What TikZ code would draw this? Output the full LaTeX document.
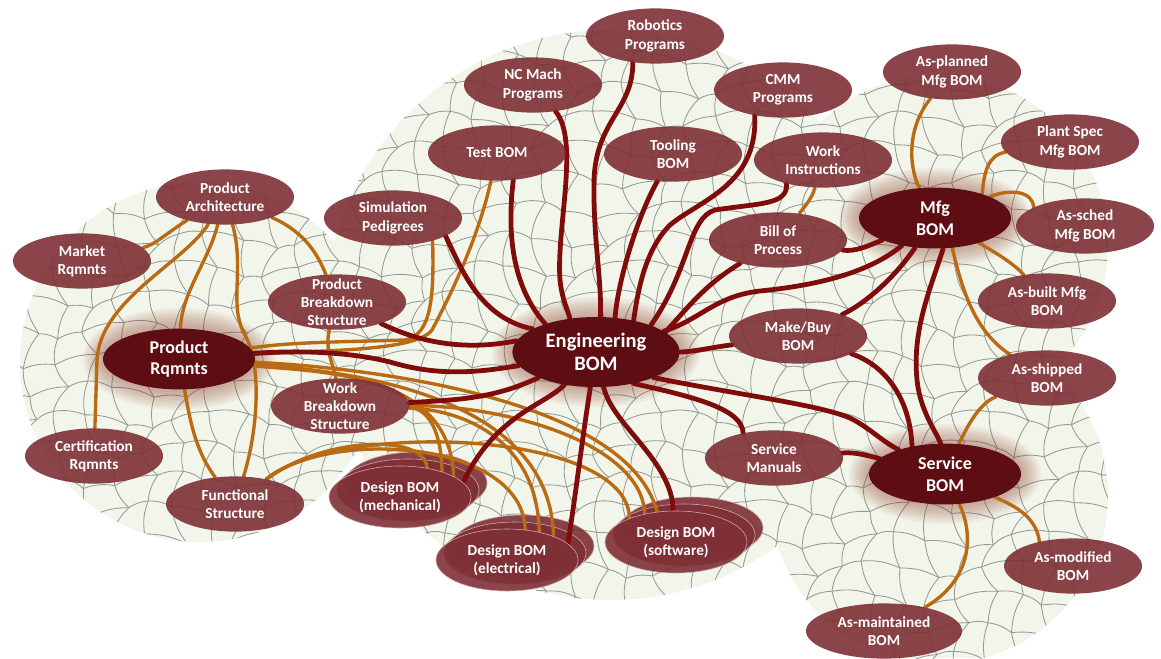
\documentclass[tikz,border=0pt]{standalone}
\usepackage{fontspec}
\setmainfont{Carlito}
\usetikzlibrary{shapes.geometric}
\definecolor{bmnode}{HTML}{7E3036}
\definecolor{bmhub}{HTML}{5E0E13}
\definecolor{bmred}{HTML}{800B0B}
\definecolor{bmorange}{HTML}{BA6A12}
\definecolor{bmpaper}{HTML}{F2F5E9}
\definecolor{bmweb}{HTML}{939993}
\definecolor{bmglow}{HTML}{8C3B2C}
\pgfdeclarelayer{paper}
\pgfdeclarelayer{links}
\pgfsetlayers{paper,links,main}

\begin{document}
\begin{tikzpicture}[
      x=0.025cm, y=-0.025cm,
      declare function={wx(\a,\b)=\a*30+9*sin(\a*97+\b*131);
                        wy(\a,\b)=\b*30+9*cos(\a*71+\b*53);},
      bub/.style={ellipse, fill=bmnode, fill opacity=.9, inner sep=0pt,
                  minimum width=3.45cm, minimum height=1.38cm},
      hub/.style={ellipse, fill=bmhub, inner sep=0pt,
                  minimum width=3.8cm, minimum height=1.52cm},
      dbom/.style={bub, draw=white!60!bmnode, thin,
                   minimum width=3.55cm, minimum height=1.55cm},
      txt/.style={text=white, text opacity=1, align=center,
                  font=\bfseries\fontsize{10.9}{13}\selectfont},
      hubtxt/.style={txt, font=\bfseries\fontsize{12.8}{15.5}\selectfont},
      eng/.style={draw=bmred, line width=3.4pt, line cap=round},
      req/.style={draw=bmorange, line width=2.4pt, line cap=round},
      web/.style={draw=bmweb, line width=0.6pt}
    ]
    \useasboundingbox (0,0) rectangle (1161,658);

    % hubs
    \node[hub, label={[hubtxt]center:Product\\Rqmnts}] (prq) at (179,359) {};
    \node[hub, minimum width=4.18cm, minimum height=1.75cm,
          label={[hubtxt, font=\bfseries\fontsize{14.6}{16.5}\selectfont]center:Engineering\\BOM}] (ebom) at (596,352) {};
    \node[hub, label={[hubtxt]center:Mfg\\BOM}] (mfg) at (935,218) {};
    \node[hub, label={[hubtxt]center:Service\\BOM}] (svc) at (945,474) {};

    % requirements side
    \node[bub, label={[txt]center:Product\\Architecture}] (parch) at (225,197) {};
    \node[bub, label={[txt]center:Market\\Rqmnts}] (mkt) at (82,261) {};
    \node[bub, label={[txt]center:Product\\Breakdown\\Structure}] (pbs) at (337,302) {};
    \node[bub, label={[txt]center:Work\\Breakdown\\Structure}] (wbs) at (340,406) {};
    \node[bub, label={[txt]center:Certification\\Rqmnts}] (cert) at (94,456) {};
    \node[bub, label={[txt]center:Functional\\Structure}] (func) at (235,504) {};

    % engineering outputs
    \node[bub, label={[txt]center:Robotics\\Programs}] (rob) at (655,36) {};
    \node[bub, label={[txt]center:NC Mach\\Programs}] (ncm) at (533,85) {};
    \node[bub, label={[txt]center:CMM\\Programs}] (cmm) at (783,90) {};
    \node[bub, label={[txt]center:Test BOM}] (test) at (497,153) {};
    \node[bub, label={[txt]center:Tooling\\BOM}] (tool) at (673,154) {};
    \node[bub, label={[txt]center:Work\\Instructions}] (wi) at (823,160) {};
    \node[bub, label={[txt]center:Simulation\\Pedigrees}] (sim) at (393,218) {};
    \node[bub, label={[txt]center:Bill of\\Process}] (bop) at (778,240) {};
    \node[bub, label={[txt]center:Make/Buy\\BOM}] (mkb) at (798,336) {};
    \node[bub, label={[txt]center:Service\\Manuals}] (sman) at (774,458) {};

    % manufacturing and service
    \node[bub, label={[txt]center:As-planned\\Mfg BOM}] (aplan) at (952,72) {};
    \node[bub, label={[txt]center:Plant Spec\\Mfg BOM}] (plant) at (1070,142) {};
    \node[bub, label={[txt]center:As-sched\\Mfg BOM}] (asch) at (1085,226) {};
    \node[bub, label={[txt]center:As-built Mfg\\BOM}] (abuilt) at (1047,301) {};
    \node[bub, label={[txt]center:As-shipped\\BOM}] (aship) at (1047,378) {};
    \node[bub, label={[txt]center:As-modified\\BOM}] (amod) at (1073,566) {};
    \node[bub, minimum width=3.9cm, label={[txt]center:As-maintained\\BOM}] (amaint) at (884,631) {};

    % design BOMs (front of each stack)
    \node[dbom, label={[txt]center:Design BOM\\(mechanical)}] (dmech) at (400,497) {};
    \node[dbom, label={[txt]center:Design BOM\\(electrical)}] (delec) at (507,560) {};
    \node[dbom, label={[txt]center:Design BOM\\(software)}] (dsoft) at (676,542) {};

    \begin{pgfonlayer}{paper}
      \begin{scope}
        \clip (200,362) circle [radius=180] (610,315) circle [radius=285]
              (938,245) circle [radius=170] (939,495) circle [radius=169];
        \fill[bmpaper] (0,0) rectangle (1161,658);
        \foreach \i in {0,...,39} \foreach \j in {0,...,22}
          \draw[web] ({wx(\i,\j)},{wy(\i,\j)}) to[bend left=14] ({wx(\i+1,\j)},{wy(\i+1,\j)})
                     ({wx(\i,\j)},{wy(\i,\j)}) to[bend right=14] ({wx(\i,\j+1)},{wy(\i,\j+1)});
      \end{scope}
      % halo round the hubs
      \foreach \h/\rx/\ry in {prq/76/31, ebom/84/35, mfg/76/30, svc/76/30}
        \foreach \k in {1,...,8}
          \fill[bmglow, opacity=.06] (\h) ellipse [x radius=\rx+2.5*\k, y radius=\ry+2.5*\k];
      % stacked sheets behind the design BOMs
      \foreach \d/\x/\y in {dmech/400/497, delec/507/560, dsoft/676/542} {
        \node[dbom] (\d-c) at (\x+16,\y-14) {};
        \node[dbom] (\d-b) at (\x+8,\y-7) {};
      }
    \end{pgfonlayer}

    \begin{pgfonlayer}{links}
      % requirement threads
      \draw[req] (parch) .. controls (168,232) and (155,245) .. (mkt);
      \draw[req] (parch) .. controls (185,262) and (100,300) .. (97,360) -- (cert);
      \draw[req] (parch) .. controls (208,262) and (182,292) .. (prq);
      \draw[req] (parch) .. controls (245,270) and (228,305) .. (245,335)
                 .. controls (262,365) and (258,430) .. (func);
      \draw[req] (parch) .. controls (305,232) and (318,255) .. (pbs);
      \draw[req] (prq) .. controls (190,420) and (195,450) .. (func);
      \draw[req] (pbs) .. controls (324,350) and (334,365) .. (wbs);
      \draw[req] (sim.-30) .. controls (434,295) and (432,335) .. (405,340)
                 .. controls (340,342) and (290,342) .. (prq);
      \draw[req] (test) .. controls (478,240) and (448,300) .. (432,330)
                 .. controls (415,352) and (320,350) .. (prq);
      \draw[req] (prq) .. controls (320,372) and (450,372) .. (dmech.21);
      \draw[req] (prq) .. controls (330,370) and (550,388) .. (delec.27);
      \draw[req] (prq) .. controls (340,366) and (625,392) .. (dsoft.122);
      \draw[req] (wbs) .. controls (425,408) and (441,425) .. (dmech.31);
      \draw[req] (wbs) .. controls (470,410) and (538,445) .. (delec.41);
      \draw[req] (wbs) .. controls (510,405) and (642,445) .. (dsoft.138);
      \draw[req] (func) .. controls (320,438) and (425,432) .. (dmech.47);
      \draw[req] (func) .. controls (330,428) and (523,440) .. (delec.59);
      \draw[req] (func) .. controls (340,420) and (628,430) .. (dsoft.153);
      \draw[req] (wi) .. controls (812,198) and (806,205) .. (bop);
      \draw[req] (aplan) .. controls (905,130) and (910,170) .. (mfg);
      \draw[req] (plant) .. controls (988,155) and (984,172) .. (mfg.27);
      \draw[req] (mfg) .. controls (1012,188) and (1033,192) .. (asch.160);
      \draw[req] (mfg) .. controls (1000,255) and (1015,265) .. (abuilt);
      \draw[req] (mfg.-60) .. controls (962,290) and (975,332) .. (aship);
      \draw[req] (aship) .. controls (982,402) and (970,420) .. (svc);
      \draw[req] (svc) .. controls (1012,505) and (1036,515) .. (amod.144);
      \draw[req] (svc) .. controls (974,535) and (972,580) .. (amaint);

      % engineering threads
      \draw[eng] (prq) .. controls (300,350) and (350,352) .. (390,362)
                 .. controls (440,377) and (480,372) .. (ebom.190);
      \draw[eng] (pbs) .. controls (425,345) and (470,350) .. (ebom.172);
      \draw[eng] (wbs) .. controls (460,400) and (495,398) .. (ebom.204);
      \draw[eng] (sim.-19) .. controls (462,270) and (480,318) .. (ebom.160);
      \draw[eng] (test.-59) .. controls (506,240) and (515,290) .. (ebom.151);
      \draw[eng] (ncm) .. controls (580,140) and (556,230) .. (560,280)
                 .. controls (562,300) and (568,310) .. (ebom.128);
      \draw[eng] (rob.-130) .. controls (633,110) and (596,120) .. (594,180)
                 .. controls (593,240) and (602,280) .. (ebom.83);
      \draw[eng] (tool) .. controls (638,215) and (618,280) .. (ebom.61);
      \draw[eng] (cmm.-138) .. controls (758,185) and (700,200) .. (670,225)
                 .. controls (645,250) and (638,290) .. (ebom.40);
      \draw[eng] (wi.-147) .. controls (788,205) and (760,203) .. (715,210)
                 .. controls (688,218) and (690,270) .. (ebom.26);
      \draw[eng] (bop) .. controls (705,285) and (690,305) .. (ebom.16);
      \draw[eng] (bop) .. controls (855,252) and (868,246) .. (mfg);
      \draw[eng] (ebom) .. controls (700,320) and (715,296) .. (760,291)
                 .. controls (820,285) and (870,272) .. (mfg);
      \draw[eng] (mkb) .. controls (708,348) and (692,352) .. (ebom);
      \draw[eng] (mfg) .. controls (900,270) and (872,300) .. (mkb);
      \draw[eng] (mfg.-75) .. controls (930,290) and (912,330) .. (917,380)
                 .. controls (920,410) and (935,430) .. (svc.98);
      \draw[eng] (mkb) .. controls (885,365) and (910,398) .. (svc.140);
      \draw[eng] (ebom.-40) .. controls (700,398) and (742,410) .. (sman.141);
      \draw[eng] (ebom.-24) .. controls (740,395) and (820,405) .. (850,418)
                 .. controls (870,428) and (880,440) .. (svc);
      \draw[eng] (sman) .. controls (855,452) and (865,455) .. (svc);
      \draw[eng] (ebom) .. controls (545,405) and (495,415) .. (dmech.13);
      \draw[eng] (ebom) .. controls (582,440) and (575,500) .. (delec.15);
      \draw[eng] (ebom) .. controls (612,425) and (672,460) .. (dsoft.95);
    \end{pgfonlayer}
\end{tikzpicture}
\end{document}
